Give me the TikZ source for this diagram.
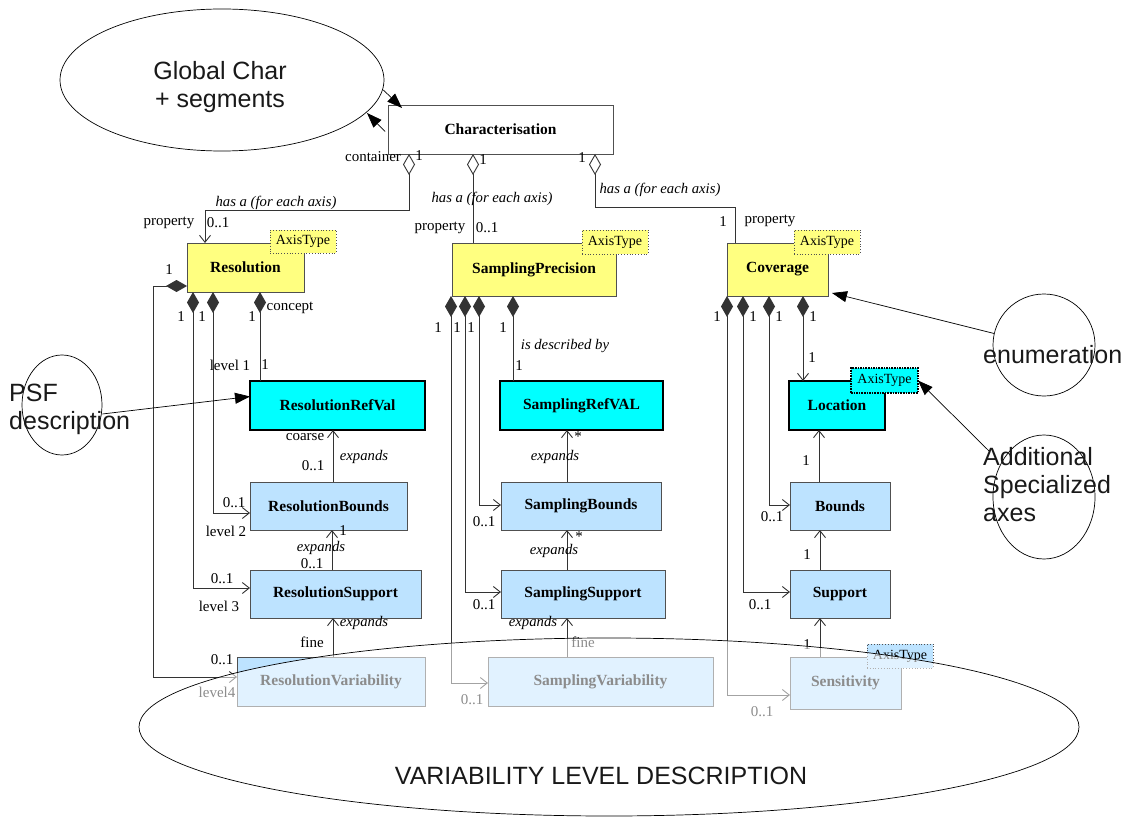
\documentclass[tikz,border=0pt]{standalone}
\usepackage{fontspec}
\setmainfont{Liberation Serif}
\newfontfamily\annfont{Liberation Sans}
\usetikzlibrary{arrows.meta,shapes.geometric,calc}
\definecolor{ylw}{HTML}{FFFF80}
\definecolor{cyn}{HTML}{00FFFF}
\definecolor{lbl}{HTML}{BDE3FF}
\definecolor{lnc}{HTML}{333333}
\definecolor{bdr}{HTML}{505050}
\tikzset{
  umlbox/.style={draw=bdr, line width=0.8pt, rectangle, inner sep=0pt, outer sep=0pt, font=\fontsize{15.5}{17}\selectfont\bfseries},
  ybox/.style={umlbox, fill=ylw},
  cbox/.style={umlbox, fill=cyn, draw=black, line width=1.8pt},
  bbox/.style={umlbox, fill=lbl},
  tagbox/.style={draw=bdr, dotted, line width=0.8pt, inner sep=0pt, outer sep=0pt, minimum width=66pt, minimum height=24pt, font=\fontsize{14}{16}\selectfont},
  lab/.style={inner sep=0pt, font=\fontsize{15}{17}\selectfont},
  ilab/.style={inner sep=0pt, font=\fontsize{14.7}{17}\selectfont\itshape},
  conn/.style={draw=lnc, line width=0.9pt},
  comp/.style={conn, {Diamond[length=21pt,width=12pt]}-{Straight Barb[length=7pt,width=11pt]}},
  compplain/.style={conn, {Diamond[length=21pt,width=12pt]}-},
  aggr/.style={conn, {Diamond[length=21pt,width=12pt,fill=white]}-},
  aggrnav/.style={conn, {Diamond[length=21pt,width=12pt,fill=white]}-{Straight Barb[length=7pt,width=11pt]}},
  nav/.style={conn, -{Straight Barb[length=7pt,width=11pt]}},
  note/.style={draw=black, ellipse, line width=0.7pt, inner sep=0pt},
  notetxt/.style={inner sep=0pt, font=\annfont\fontsize{25}{28}\selectfont, align=left, text=black!90},
  notearrow/.style={draw=black, line width=0.7pt, -{Triangle[length=15pt,width=11pt]}},
}
\begin{document}
\begin{tikzpicture}[x=1pt,y=-1pt]
\useasboundingbox (0,0) rectangle (1137,818);

% ---------- boxes ----------
\node[umlbox, fill=white, minimum width=225pt, minimum height=49pt] (char) at (500.5,129.5) {Characterisation};
\node[ybox, minimum width=117pt, minimum height=49pt] (res) at (245.5,267.5) {Resolution};
\node[ybox, minimum width=164pt, minimum height=53pt] (sp) at (534,269.5) {SamplingPrecision};
\node[ybox, minimum width=101pt, minimum height=53pt] (cov) at (777.5,269.5) {Coverage};
\node[cbox, minimum width=175pt, minimum height=49pt] (rrv) at (337.5,405.5) {ResolutionRefVal};
\node[cbox, minimum width=163pt, minimum height=49pt] (srv) at (581.5,405.5) {SamplingRefVAL};
\node[cbox, minimum width=96pt, minimum height=49pt] (loc) at (837,405.5) {Location};
\node[bbox, minimum width=157pt, minimum height=48pt] (rb) at (328.5,506) {ResolutionBounds};
\node[bbox, minimum width=160pt, minimum height=48pt] (sb) at (581,506) {SamplingBounds};
\node[bbox, minimum width=100pt, minimum height=48pt] (bnd) at (840,506) {Bounds};
\node[bbox, minimum width=171pt, minimum height=48pt] (rs) at (335.5,594) {ResolutionSupport};
\node[bbox, minimum width=164pt, minimum height=48pt] (ss) at (583,594) {SamplingSupport};
\node[bbox, minimum width=100pt, minimum height=48pt] (sup) at (840,594) {Support};
\node[bbox, minimum width=188pt, minimum height=49pt] (rvar) at (331,681.5) {ResolutionVariability};
\node[bbox, minimum width=225pt, minimum height=49pt] (svar) at (600.5,681.5) {SamplingVariability};
\node[bbox, minimum width=111pt, minimum height=52pt] (sens) at (845.5,683) {Sensitivity};

% ---------- AxisType tags ----------
\node[tagbox, fill=ylw, minimum height=23pt] (t1) at (303,241.5) {AxisType};
\node[tagbox, fill=ylw] (t2) at (615,242) {AxisType};
\node[tagbox, fill=ylw] (t3) at (827,242) {AxisType};
\node[tagbox, fill=cyn, draw=black, line width=1.6pt, densely dotted, minimum width=67pt, minimum height=25pt] (t4) at (884.5,380.5) {AxisType};
\node[tagbox, fill=lbl] (t5) at (900,656) {AxisType};

% ---------- aggregations from Characterisation ----------
\draw[aggrnav] ($(char.south west)+(21,0)$) -- ++(0,56) -| ($(res.north west)+(18,0)$);
\draw[aggr] ($(char.south west)+(85,0)$) -- ($(sp.north west)+(21,0)$);
\draw[aggr] ($(char.south west)+(207,0)$) -- ++(0,53) -| ($(cov.north west)+(8,0)$);

% ---------- Resolution column ----------
\draw[comp] ($(res.south west)+(0,-6)$) -- ++(-34,0) |- ($(rvar.west)+(0,-4.5)$);
\draw[comp] ($(res.south west)+(6,0)$) |- ($(rs.west)+(0,-6)$);
\draw[comp] ($(res.south west)+(26,0)$) |- ($(rb.west)+(0,7)$);
\draw[compplain] ($(res.south west)+(73,0)$) -- ($(rrv.north west)+(10,0)$);
\draw[nav] ($(rb.north west)+(83,0)$) -- ($(rrv.south west)+(83,0)$);
\draw[nav] ($(rs.north west)+(82,0)$) -- ($(rb.south west)+(82,0)$);
\draw[nav] ($(rvar.north west)+(96,0)$) -- ($(rs.south west)+(83,0)$);

% ---------- Sampling column ----------
\draw[comp] ($(sp.south west)+(-1,0)$) |- ($(svar.west)+(0,1.5)$);
\draw[comp] ($(sp.south west)+(13,0)$) |- ($(ss.west)+(0,-2)$);
\draw[comp] ($(sp.south west)+(27,0)$) |- ($(sb.west)+(0,-1)$);
\draw[compplain] ($(sp.south west)+(61,0)$) -- ($(srv.north west)+(13,0)$);
\draw[nav] ($(sb.north west)+(66,0)$) -- ($(srv.south west)+(67,0)$);
\draw[nav] ($(ss.north west)+(66,0)$) -- ($(sb.south west)+(66,0)$);
\draw[nav] ($(svar.north west)+(79,0)$) -- ($(ss.south west)+(66,0)$);

% ---------- Coverage column ----------
\draw[comp] (cov.south west) |- ($(sens.west)+(0,12)$);
\draw[comp] ($(cov.south west)+(16,0)$) |- ($(sup.west)+(0,-2)$);
\draw[comp] ($(cov.south west)+(42,0)$) |- ($(bnd.west)+(0,-1)$);
\draw[comp] ($(cov.south west)+(76,0)$) -- ($(loc.north west)+(14,0)$);
\draw[nav] ($(bnd.north west)+(29,0)$) -- ($(loc.south west)+(30,0)$);
\draw[nav] ($(sup.north west)+(30,0)$) -- ($(bnd.south west)+(30,0)$);
\draw[nav] ($(sens.north west)+(30,0)$) -- ($(sup.south west)+(30,0)$);

% ---------- labels ----------
\node[lab] (m1) at (373,157) {container};
\node[lab] (m2) at (419,156) {1};
\node[lab] (m3) at (483,160) {1};
\node[lab] (m4) at (582,158) {1};
\node[ilab] (m5) at (276,203) {has a (for each axis)};
\node[ilab] (m6) at (492,199) {has a (for each axis)};
\node[ilab] (m7) at (660,190) {has a (for each axis)};
\node[lab] (m8) at (169,223) {property};
\node[lab] (m9) at (218,223) {0..1};
\node[lab] (m10) at (440,228) {property};
\node[lab] (m11) at (487,228) {0..1};
\node[lab] (m12) at (723,222) {1};
\node[lab] (m13) at (770,221) {property};

\node[lab] (m14) at (169,270) {1};
\node[lab] (m15) at (181,317) {1};
\node[lab] (m16) at (202,317) {1};
\node[lab] (m17) at (252,317) {1};
\node[lab] (m18) at (290,308) {concept};
\node[lab] (m19) at (230,365) {level 1};
\node[lab] (m20) at (265,365) {1};
\node[lab] (m21) at (305,437) {coarse};
\node[ilab] (m22) at (364,457) {expands};
\node[lab] (m23) at (313,466) {0..1};
\node[lab] (m24) at (234,503) {0..1};
\node[lab] (m25) at (226,531) {level 2};
\node[lab] (m26) at (343,531) {1};
\node[ilab] (m27) at (321,548) {expands};
\node[lab] (m28) at (312,564) {0..1};
\node[lab] (m29) at (222,579) {0..1};
\node[lab] (m30) at (219,606) {level 3};
\node[ilab] (m31) at (364,623) {expands};
\node[lab] (m32) at (312,642) {fine};
\node[lab] (m33) at (222,660) {0..1};
\node[lab] (m34) at (217,692) {level4};

\node[lab] (m35) at (438,328) {1};
\node[lab] (m36) at (457,328) {1};
\node[lab] (m37) at (471,328) {1};
\node[lab] (m38) at (503,328) {1};
\node[ilab] (m39) at (565,346) {is described by};
\node[lab] (m40) at (519,366) {1};
\node[lab] (m41) at (578,437) {*};
\node[ilab] (m42) at (555,457) {expands};
\node[lab] (m43) at (484,522) {0..1};
\node[lab] (m44) at (579,537) {*};
\node[ilab] (m45) at (554,551) {expands};
\node[lab] (m46) at (484,605) {0..1};
\node[ilab] (m47) at (533,623) {expands};
\node[lab] (m48) at (583,642) {fine};
\node[lab] (m49) at (472,700) {0..1};

\node[lab] (m50) at (717,317) {1};
\node[lab] (m51) at (753,317) {1};
\node[lab] (m52) at (779,317) {1};
\node[lab] (m53) at (813,317) {1};
\node[lab] (m54) at (812,358) {1};
\node[lab] (m55) at (806,461) {1};
\node[lab] (m56) at (772,517) {0..1};
\node[lab] (m57) at (807,555) {1};
\node[lab] (m58) at (760,605) {0..1};
\node[lab] (m59) at (807,645) {1};
\node[lab] (m60) at (762,712) {0..1};

% ---------- annotations ----------
\node[note, minimum width=324pt, minimum height=142pt] (gc) at (222,80) {};
\node[notetxt, align=center] (gctxt) at (220,87) {Global Char\\+ segments};
\draw[notearrow] ($(gc.east)+(-1,10)$) -- ($(char.north west)+(14,3)$);
\draw[notearrow] ($(char.west)+(-3,2)$) -- ($(gc.center)+(145,33)$);

\node[note, minimum width=80pt, minimum height=100pt] (psf) at (62,405) {};
\node[notetxt, anchor=west] (psftxt) at (9,409) {PSF\\description};
\draw[notearrow] ($(psf.east)+(0,9)$) -- ($(rrv.west)+(0,-9)$);

\node[note, minimum width=102pt, minimum height=102pt] (enum) at (1044,345) {};
\node[notetxt, anchor=west] (enumtxt) at (983,355) {enumeration};
\draw[notearrow] (enum.167) -- ($(cov.south east)+(4,-3)$);

\node[note, minimum width=102pt, minimum height=124pt] (addl) at (1044,497) {};
\node[notetxt, anchor=west] (addltxt) at (983,485) {Additional\\Specialized\\axes};
\coordinate (addlstart) at (989,451);
\draw[notearrow] (addlstart) -- (t4.east);

\node[note, minimum width=940pt, minimum height=178pt, fill=white, fill opacity=0.55] (var) at (609,727) {};
\node[notetxt, align=center] (vartxt) at (601,776) {VARIABILITY LEVEL DESCRIPTION};
\end{tikzpicture}
\end{document}
